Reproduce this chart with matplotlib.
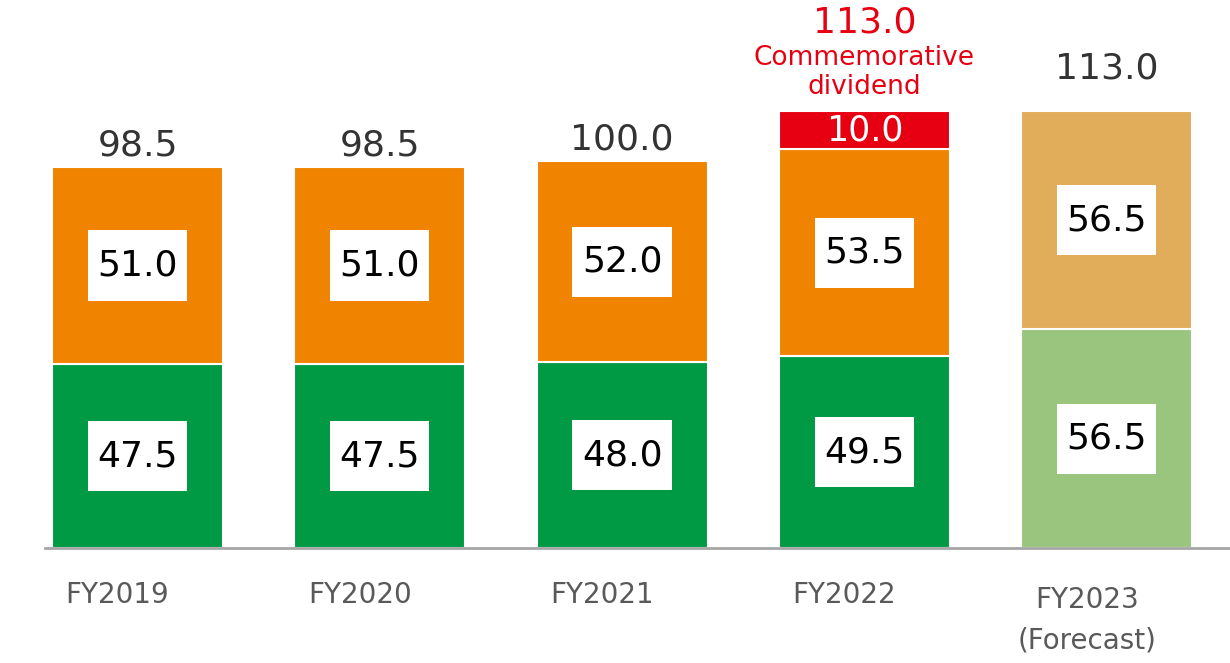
import matplotlib.pyplot as plt
import matplotlib.transforms as mtransforms
from matplotlib.patches import Rectangle

years = ["FY2019", "FY2020", "FY2021", "FY2022", "FY2023\n(Forecast)"]
interim = [47.5, 47.5, 48.0, 49.5, 56.5]
year_end = [51.0, 51.0, 52.0, 53.5, 56.5]
commemorative = [0, 0, 0, 10.0, 0]
totals = [98.5, 98.5, 100.0, 113.0, 113.0]

green = ["#009944", "#009944", "#009944", "#009944", "#99C57E"]
orange = ["#F08300", "#F08300", "#F08300", "#F08300", "#E1AD5A"]
red = "#E60012"

fig = plt.figure(figsize=(12.3, 6.63), dpi=100)
ax = fig.add_axes([45 / 1230, 115 / 663, 1185 / 1230, 548 / 663])

x = list(range(len(years)))
w = 0.706

ax.bar(x, interim, width=w, color=green, edgecolor="white", linewidth=1.5)
ax.bar(x, year_end, width=w, bottom=interim, color=orange, edgecolor="white", linewidth=1.5)
ax.bar(x[3], commemorative[3], width=w, bottom=interim[3] + year_end[3],
       color=red, edgecolor="white", linewidth=1.5)

# white label boxes in the middle of each segment
bw, bh = 0.41, 18.1
for i in x:
    for val, yc in [(interim[i], interim[i] / 2),
                    (year_end[i], interim[i] + year_end[i] / 2)]:
        ax.add_patch(Rectangle((i - bw / 2, yc - bh / 2), bw, bh,
                               facecolor="white", edgecolor="none", zorder=3))
        ax.text(i, yc, f"{val:.1f}", ha="center", va="center",
                fontsize=26, color="black", zorder=4)

# commemorative segment label
top_reg = interim[3] + year_end[3]
ax.text(3, top_reg + commemorative[3] / 2, f"{commemorative[3]:.1f}", ha="center",
        va="center", fontsize=25, color="white")

for i in x:
    if i == 3:
        continue
    gap = 6.6 if i == 4 else 1.2
    ax.text(i, totals[i] + gap, f"{totals[i]:.1f}", ha="center", va="bottom",
            fontsize=26, color="#333333")

ax.text(3, totals[3] + 2.8, "Commemorative\ndividend", ha="center", va="bottom",
        fontsize=19, color=red, linespacing=1.15)
ax.text(3, totals[3] + 18.3, f"{totals[3]:.1f}", ha="center", va="bottom",
        fontsize=26, color=red)

ax.set_xlim(-(137.5 - 45) / 242.3, (1230 - 137.5) / 242.3)
ax.set_ylim(0, 548 / 3.87)

for s in ["top", "right", "left"]:
    ax.spines[s].set_visible(False)
ax.spines["bottom"].set_color("#A6A6A6")
ax.spines["bottom"].set_linewidth(2)
ax.set_yticks([])
ax.set_xticks(x)
ax.set_xticklabels(years, fontsize=20, color="#595959", linespacing=1.55)
ax.tick_params(axis="x", length=0, pad=24)

offset = mtransforms.ScaledTranslation(-0.2, 0, fig.dpi_scale_trans)
for lbl in ax.get_xticklabels():
    lbl.set_transform(lbl.get_transform() + offset)
last = ax.get_xticklabels()[-1]
last.set_transform(last.get_transform() + mtransforms.ScaledTranslation(0, -0.05, fig.dpi_scale_trans))

fig.savefig("out.png", dpi=100)
